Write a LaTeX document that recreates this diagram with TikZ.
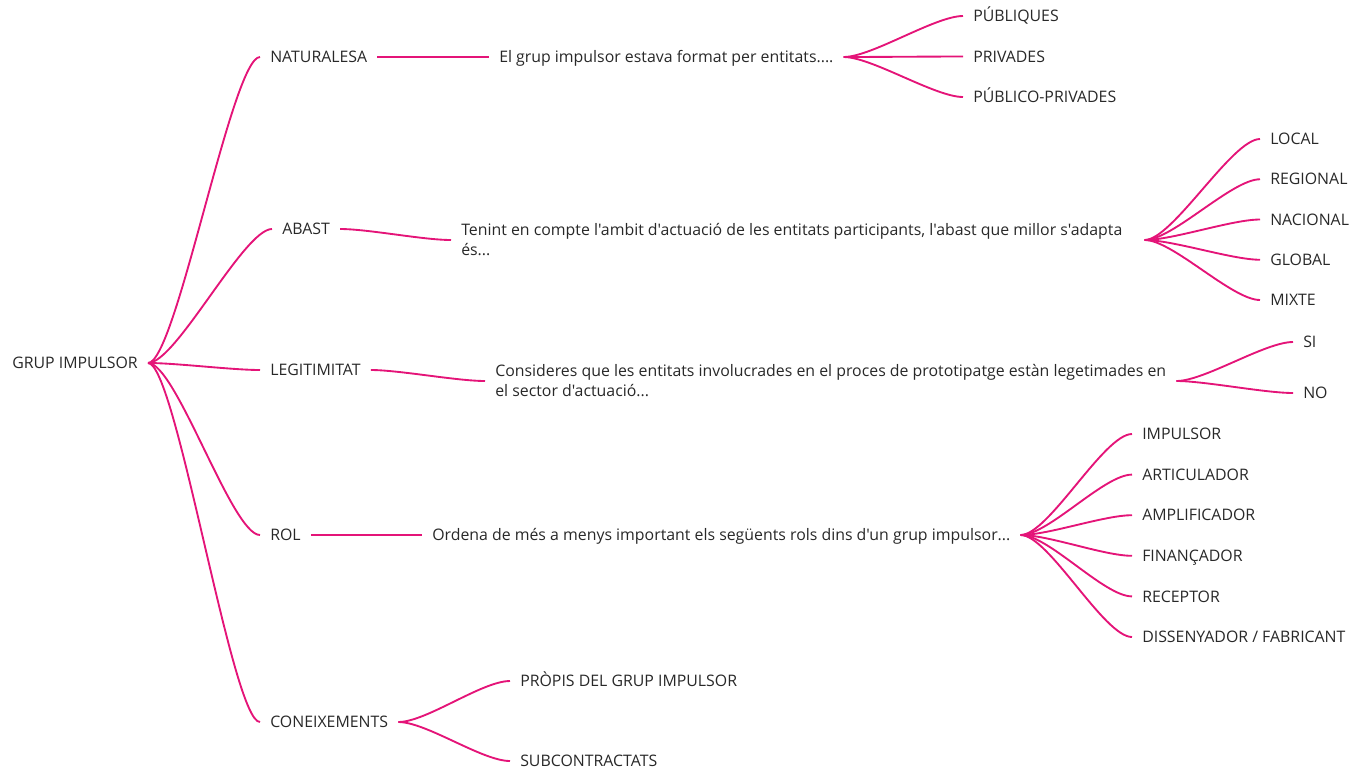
\documentclass[tikz,border=0pt]{standalone}
\usepackage{fontspec}
\setmainfont{Open Sans}[Ligatures=TeXOff]
\usetikzlibrary{positioning}
\definecolor{branch}{RGB}{228,20,120}
\definecolor{ink}{RGB}{40,40,40}

\begin{document}
\begin{tikzpicture}[x=0.75pt,y=-0.75pt]
        \tikzset{txt/.style = {anchor=west,inner xsep=7.5pt,inner ysep=0pt,text height=8.5pt,text depth=0pt,text=ink,font=\fontsize{11.9}{15}\selectfont}}
        \tikzset{ask/.style = {anchor=west,inner xsep=7.5pt,inner ysep=0pt,align=left,text=ink,font=\fontsize{11.9}{15}\selectfont}}
        \tikzset{link/.style = {draw=branch,line width=1.4pt,to path={.. controls +(28,0) and +(-28,0) .. (\tikztotarget)}}}
        \useasboundingbox (0,0) rectangle (1350,769);
        % root and topics
        \node[txt] (grup) at (2,363) {GRUP IMPULSOR};
        \node[txt] (nat) at (260,57) {NATURALESA};
        \node[txt] (abast) at (272,229) {ABAST};
        \node[txt] (legit) at (260,370) {LEGITIMITAT};
        \node[txt] (rol) at (260,535) {ROL};
        \node[txt] (coneix) at (260,722) {CONEIXEMENTS};
        % questions
        \node[txt] (qnat) at (489,57) {El grup impulsor estava format per entitats....};
        \node[ask] (qabast) at (451,240) {Tenint en compte l'ambit d'actuació de les entitats participants, l'abast que millor s'adapta\\és...};
        \node[ask] (qlegit) at (485,381) {Consideres que les entitats involucrades en el proces de prototipatge estàn legetimades en\\el sector d'actuació...};
        \node[txt] (qrol) at (422,535) {Ordena de més a menys important els següents rols dins d'un grup impulsor...};
        \coordinate (abastfork) at ([xshift=9pt]qabast.east);
        %edges
        \draw[link] (grup.east) to (nat.west);
        \draw[link] (grup.east) to (abast.west);
        \draw[link] (grup.east) to (legit.west);
        \draw[link] (grup.east) to (rol.west);
        \draw[link] (grup.east) to (coneix.west);
        \draw[link] (nat.east) to (qnat.west);
        \draw[link] (abast.east) to (qabast.west);
        \draw[link] (legit.east) to (qlegit.west);
        \draw[link] (rol.east) to (qrol.west);
        % answers
        \foreach \ans [count=\i] in {PÚBLIQUES,PRIVADES,PÚBLICO-PRIVADES} {
            \node[txt] (natans\i) at (963,16+40.5*\i-40.5) {\ans};
            \draw[link] (qnat.east) to (natans\i.west);
        }
        \foreach \ans [count=\i] in {LOCAL,REGIONAL,NACIONAL,GLOBAL,MIXTE} {
            \node[txt] (abastans\i) at (1260,139+40.25*\i-40.25) {\ans};
            \draw[link] (abastfork) to (abastans\i.west);
        }
        \foreach \ans [count=\i] in {SI,NO} {
            \node[txt] (legitans\i) at (1293,342+51*\i-51) {\ans};
            \draw[link] (qlegit.east) to (legitans\i.west);
        }
        \foreach \ans [count=\i] in {IMPULSOR,ARTICULADOR,AMPLIFICADOR,FINANÇADOR,RECEPTOR,DISSENYADOR / FABRICANT} {
            \node[txt] (rolans\i) at (1132,434+40.6*\i-40.6) {\ans};
            \draw[link] (qrol.east) to (rolans\i.west);
        }
        \foreach \ans [count=\i] in {PRÒPIS DEL GRUP IMPULSOR,SUBCONTRACTATS} {
            \node[txt] (coneixans\i) at (510,681+80*\i-80) {\ans};
            \draw[link] (coneix.east) to (coneixans\i.west);
        }
\end{tikzpicture}
\end{document}
